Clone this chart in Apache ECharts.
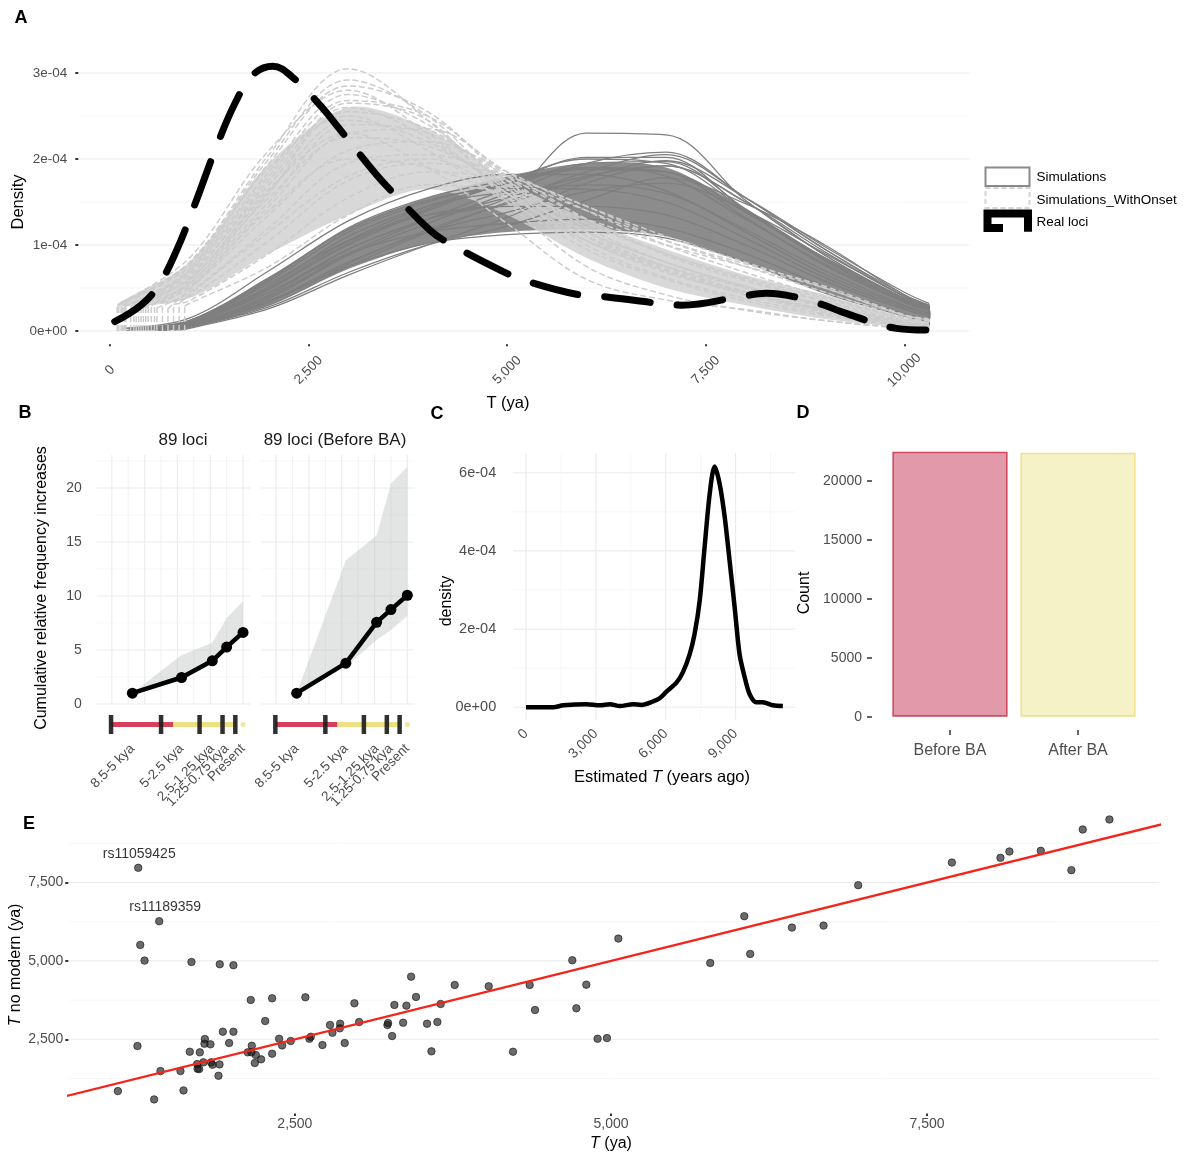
<!DOCTYPE html>
<html>
<head>
<meta charset="utf-8">
<script src="https://cdn.jsdelivr.net/npm/echarts@6/dist/echarts.min.js"></script>
<style>
  html, body { margin: 0; padding: 0; background: #fff; }
  #chart { width: 1193px; height: 1154px; }
</style>
</head>
<body>
<div id="chart"></div>
<script>
// ---------------- Panel A: densities of T (density values in units of 1e-4) ----------------
const aCurveT = [1000, 2000, 3000, 4000, 5000, 6000, 7000, 8000, 9000, 10000, 10310];

// "Simulations" (solid dark curves): start point and values at aCurveT
const aSimStartT = [620, 440, 320, 240, 150, 380, 560, 500, 680, 420, 200, 800, 260, 600, 340, 860, 460, 580, 230, 700];
const aSimStartD = [0.01, 0.02, 0.02, 0.02, 0.03, 0.02, 0.01, 0.02, 0.01, 0.02, 0.03, 0.01, 0.02, 0.01, 0.02, 0.01, 0.02, 0.01, 0.03, 0.01];
const aSimCurves = [
  [0.05, 0.35, 0.75, 1.02, 1.12, 1.15, 1.08, 0.80, 0.44, 0.17, 0.11],
  [0.08, 0.45, 0.90, 1.15, 1.25, 1.30, 1.20, 0.90, 0.52, 0.20, 0.13],
  [0.10, 0.55, 1.05, 1.35, 1.45, 1.45, 1.35, 1.00, 0.58, 0.25, 0.17],
  [0.12, 0.62, 1.18, 1.52, 1.66, 1.65, 1.50, 1.08, 0.62, 0.27, 0.19],
  [0.15, 0.70, 1.28, 1.65, 1.82, 1.82, 1.63, 1.15, 0.66, 0.29, 0.21],
  [0.10, 0.50, 1.00, 1.40, 1.72, 1.90, 1.85, 1.32, 0.76, 0.33, 0.24],
  [0.06, 0.40, 0.90, 1.30, 1.65, 1.95, 1.97, 1.42, 0.84, 0.37, 0.27],
  [0.08, 0.45, 0.95, 1.30, 1.55, 1.80, 1.92, 1.50, 0.92, 0.40, 0.29],
  [0.05, 0.30, 0.75, 1.15, 1.50, 1.85, 2.05, 1.55, 0.95, 0.40, 0.29],
  [0.07, 0.42, 0.95, 1.30, 1.55, 2.30, 2.28, 1.52, 0.88, 0.36, 0.26],
  [0.12, 0.60, 1.20, 1.55, 1.75, 1.90, 1.80, 1.30, 0.78, 0.34, 0.24],
  [0.04, 0.28, 0.68, 1.00, 1.22, 1.52, 1.78, 1.48, 1.00, 0.42, 0.30],
  [0.09, 0.50, 1.05, 1.45, 1.72, 2.02, 2.02, 1.40, 0.82, 0.35, 0.25],
  [0.06, 0.35, 0.80, 1.15, 1.38, 1.62, 1.72, 1.40, 0.90, 0.40, 0.28],
  [0.10, 0.52, 1.10, 1.45, 1.62, 1.70, 1.60, 1.18, 0.70, 0.30, 0.21],
  [0.03, 0.26, 0.65, 1.00, 1.32, 1.72, 1.92, 1.50, 0.88, 0.38, 0.27],
  [0.08, 0.48, 1.02, 1.42, 1.75, 2.00, 1.95, 1.40, 0.82, 0.34, 0.24],
  [0.06, 0.38, 0.88, 1.25, 1.60, 1.95, 2.08, 1.55, 0.95, 0.42, 0.30],
  [0.11, 0.58, 1.15, 1.50, 1.72, 1.88, 1.85, 1.38, 0.85, 0.38, 0.27],
  [0.05, 0.33, 0.78, 1.18, 1.48, 1.78, 1.98, 1.55, 0.98, 0.45, 0.32]
];

// "Simulations_WithOnset" (dashed light curves)
const aOnsetStartT = [90, 140, 260, 330, 200, 450, 390, 520, 590, 660, 800, 940, 480, 160, 730, 870, 110, 180, 300, 360, 420, 560];
const aOnsetStartD = [0.30, 0.33, 0.28, 0.31, 0.34, 0.29, 0.32, 0.30, 0.27, 0.33, 0.31, 0.29, 0.34, 0.30, 0.26, 0.32, 0.31, 0.28, 0.33, 0.30, 0.27, 0.32];
const aOnsetCurves = [
  [0.80, 2.05, 3.05, 2.45, 1.55, 0.95, 0.60, 0.35, 0.18, 0.06, 0.04],
  [0.85, 2.10, 2.80, 2.30, 1.60, 1.05, 0.70, 0.45, 0.25, 0.08, 0.05],
  [0.70, 1.85, 2.75, 2.40, 1.70, 1.10, 0.72, 0.45, 0.22, 0.07, 0.05],
  [0.65, 1.70, 2.55, 2.35, 1.75, 1.20, 0.80, 0.50, 0.28, 0.09, 0.06],
  [0.75, 1.90, 2.50, 2.10, 1.50, 1.05, 0.75, 0.50, 0.30, 0.10, 0.07],
  [0.55, 1.50, 2.40, 2.30, 1.80, 1.30, 0.90, 0.60, 0.35, 0.12, 0.08],
  [0.60, 1.55, 2.25, 2.15, 1.70, 1.25, 0.90, 0.62, 0.38, 0.14, 0.10],
  [0.50, 1.35, 2.10, 2.20, 1.85, 1.40, 1.00, 0.68, 0.40, 0.15, 0.10],
  [0.45, 1.20, 1.95, 2.05, 1.80, 1.45, 1.05, 0.75, 0.45, 0.16, 0.12],
  [0.40, 1.05, 1.75, 1.95, 1.80, 1.45, 1.10, 0.80, 0.50, 0.18, 0.13],
  [0.35, 0.90, 1.55, 1.85, 1.75, 1.40, 1.05, 0.78, 0.52, 0.19, 0.14],
  [0.32, 0.75, 1.35, 1.70, 1.60, 1.30, 1.00, 0.75, 0.50, 0.18, 0.13],
  [0.55, 1.60, 2.65, 2.45, 1.50, 0.75, 0.42, 0.24, 0.12, 0.03, 0.02],
  [0.60, 1.65, 2.30, 1.90, 1.25, 0.60, 0.36, 0.25, 0.12, 0.04, 0.03],
  [0.48, 1.40, 2.00, 1.90, 1.55, 1.10, 0.75, 0.45, 0.25, 0.08, 0.05],
  [0.42, 1.15, 1.80, 2.00, 1.60, 1.15, 0.80, 0.52, 0.30, 0.10, 0.07],
  [0.78, 2.00, 2.92, 2.50, 1.65, 1.00, 0.62, 0.38, 0.20, 0.06, 0.04],
  [0.72, 1.95, 2.85, 2.55, 1.75, 1.10, 0.70, 0.42, 0.22, 0.07, 0.05],
  [0.68, 1.80, 2.68, 2.50, 1.80, 1.15, 0.75, 0.46, 0.25, 0.08, 0.05],
  [0.62, 1.75, 2.60, 2.25, 1.60, 1.05, 0.68, 0.44, 0.24, 0.08, 0.05],
  [0.52, 1.45, 2.30, 2.35, 1.85, 1.30, 0.88, 0.58, 0.34, 0.11, 0.08],
  [0.58, 1.62, 2.45, 2.20, 1.65, 1.15, 0.80, 0.52, 0.30, 0.10, 0.07]
];

// dense cores of the two simulation bundles
const aSimBandT = [200, 1000, 2000, 3000, 4000, 5000, 6000, 7000, 8000, 9000, 10000, 10310];
const aSimBandLow = [0.00, 0.04, 0.30, 0.72, 1.02, 1.15, 1.18, 1.10, 0.80, 0.45, 0.18, 0.12];
const aSimBandHigh = [0.01, 0.13, 0.62, 1.20, 1.55, 1.80, 1.95, 1.90, 1.42, 0.86, 0.38, 0.27];
const aOnsetBandT = [100, 1000, 2000, 3000, 4000, 5000, 6000, 7000, 8000, 9000, 10000, 10310];
const aOnsetBandLow = [0.28, 0.38, 0.90, 1.35, 1.65, 1.35, 0.85, 0.50, 0.30, 0.14, 0.04, 0.03];
const aOnsetBandHigh = [0.32, 0.80, 1.95, 2.60, 2.35, 1.75, 1.30, 0.95, 0.65, 0.42, 0.15, 0.10];

// "Real loci"
const aRealT = [60, 390, 610, 830, 1080, 1330, 1580, 1800, 2050, 2300, 2660, 2880, 3360, 3530, 4030, 4270,
                4950, 5210, 5910, 6210, 6920, 7200, 7940, 8260, 8920, 9220, 9900, 10270];
const aRealD = [0.11, 0.30, 0.53, 0.92, 1.50, 2.12, 2.66, 2.98, 3.08, 2.95, 2.61, 2.36, 1.81, 1.64, 1.17, 1.02,
                0.69, 0.59, 0.42, 0.40, 0.32, 0.30, 0.40, 0.44, 0.32, 0.22, 0.03, 0.01];

const aXTicks = [0, 2500, 5000, 7500, 10000];
const aYTicks = [0, 1, 2, 3];
const aYMinor = [0.5, 1.5, 2.5];
const aLegendNames = ['Simulations', 'Simulations_WithOnset', 'Real loci'];

// ---------------- Panel B: cumulative relative frequency increases ----------------
const bFacetTitles = ['89 loci', '89 loci (Before BA)'];
const bPeriodLabels = ['8.5-5 kya', '5-2.5 kya', '2.5-1.25 kya', '1.25-0.75 kya', 'Present'];
const bPeriodX = [-6.75, -3.75, -1.875, -1, 0];
const bCumulative = [[1.0, 2.45, 4.0, 5.27, 6.63], [1.0, 3.78, 7.56, 8.74, 10.07]];
const bLower = [[1.0, 2.2, 3.75, 5.0, 6.3], [1.0, 3.45, 5.93, 6.85, 8.15]];
const bUpper = [[1.0, 4.54, 5.68, 7.93, 9.54], [1.0, 13.3, 15.6, 20.4, 21.97]];
const bYTicks = [0, 5, 10, 15, 20];
const bYMinor = [2.5, 7.5, 12.5, 17.5, 22.5];
const bXGrid = [-8, -6, -4, -2, 0];
const bXMinor = [-7, -5, -3, -1];
const bTimelineBreaks = [-8.05, -5.0, -2.65, -1.25, -0.47];
const bBeforeBA = [-8.05, -4.27];
const bAfterBA = [-4.27, -0.42];
const bPresent = 0;

// ---------------- Panel C: density of estimated T ----------------
const cT = [0, 1170, 1600, 2600, 3170, 3600, 4030, 4600, 4960, 5460, 5740, 6030, 6460, 6740, 7030, 7240,
            7460, 7670, 7890, 8100, 8310, 8530, 8740, 8960, 9170, 9390, 9600, 9890, 10170, 10600, 11030];
const cD = [0.0, 0.0, 0.05, 0.08, 0.05, 0.08, 0.03, 0.08, 0.06, 0.15, 0.23, 0.40, 0.63, 0.90, 1.36, 1.88,
            2.73, 4.10, 5.47, 6.16, 5.73, 4.88, 3.76, 2.56, 1.36, 0.77, 0.34, 0.13, 0.13, 0.05, 0.03];
const cXTicks = [0, 3000, 6000, 9000];
const cXMinor = [1500, 4500, 7500, 10500];
const cYTicks = [0, 2, 4, 6];
const cYMinor = [1, 3, 5];

// ---------------- Panel D: counts ----------------
const dGroups = ['Before BA', 'After BA'];
const dCounts = [22490, 22400];
const dYTicks = [0, 5000, 10000, 15000, 20000];

// ---------------- Panel E: T vs T without modern samples ----------------
const ePoints = [
  [1261, 7967], [1427, 6265], [1277, 5509], [1311, 5009], [1255, 2285], [1100, 849], [1387, 584],
  [1437, 1487], [1595, 1487], [1619, 871], [1682, 4966], [1669, 2104], [1727, 1711], [1730, 1561],
  [1743, 1550], [1748, 2084], [1777, 1765], [1785, 2359], [1788, 2509], [1832, 2340], [1837, 1765],
  [1848, 1689], [1896, 1338], [1904, 1700], [1906, 4893], [1930, 2742], [1980, 2381], [2014, 2742],
  [2014, 4861], [2127, 2084], [2151, 3754], [2159, 2295], [2156, 2084], [2183, 1743], [2191, 1998],
  [2233, 1861], [2265, 3083], [2320, 3807], [2320, 2040], [2375, 2518], [2399, 2306], [2467, 2445],
  [2583, 3840], [2615, 2518], [2626, 2582], [2718, 2317], [2778, 2956], [2797, 2710], [2858, 2997],
  [2855, 2850], [2894, 2381], [2971, 3648], [3008, 3051], [3232, 2956], [3237, 3019], [3269, 2604],
  [3287, 3594], [3356, 3030], [3382, 3573], [3419, 4498], [3458, 3849], [3545, 2997], [3580, 2116],
  [3627, 3051], [3653, 3626], [3764, 4232], [4033, 4190], [4225, 2104], [4357, 4232], [4399, 3434],
  [4694, 5020], [4726, 3488], [4805, 4243], [4894, 2518], [4968, 2539], [5058, 5711], [5785, 4934],
  [6054, 6425], [6101, 5222], [6431, 6062], [6681, 6125], [6955, 7414], [7696, 8136], [8080, 8286],
  [8151, 8487], [8399, 8509], [8641, 7893], [8731, 9190], [8942, 9508]
];
const eLabelIndex = [0, 1];
const eLabelNames = ['rs11059425', 'rs11189359'];
const eIdentity = [[0, 0], [10000, 10000]];   // y = x reference line
const eTicks = [2500, 5000, 7500];
const eMinor = [1250, 3750, 6250, 8750];

// ---------------- styling ----------------
const FONT = '"Liberation Sans", Arial, Helvetica, sans-serif';
const AXIS_TXT = '#4d4d4d';
const GRID_MAJOR = { stroke: '#ebebeb', lineWidth: 1.1 };
const GRID_MINOR = { stroke: '#f4f4f4', lineWidth: 0.7 };
const SIM_COLOR = '#7f7f7f';
const ONSET_COLOR = '#cccccc';
const BEFORE_RED = '#d6405a';
const AFTER_YELLOW = '#efdf84';
const D_FILL = ['#e29aaa', '#f5f2c8'];
const D_EDGE = ['#d24a60', '#f0e28c'];
const E_LABEL_SHIFT = [[1, 0], [6, 0]];

const ranges = {
  A: { x: [-399, 10818], y: [-0.155, 3.255] },
  B: { x: [-8.925, 0.425], y: [-0.05, 23.05] },
  T: { x: [-8.925, 0.425], y: [-1, 1] },
  C: { x: [-550, 11560], y: [-0.31, 6.5] },
  D: { y: [-1124, 23610] },
  E: { x: [708, 9334], y: [138, 9954] }
};

const fmtComma = v => Number(v).toLocaleString('en-US');
const fmtSci = v => (v === 0 ? '0e+00' : v + 'e-04');
const fmtPlain = v => String(v);
const fmtPeriod = v => { const k = bPeriodX.indexOf(v); return k < 0 ? '' : bPeriodLabels[k]; };

// ---------------- helpers ----------------
function segSeries(gi, segs, style, z) {
  return {
    type: 'custom', xAxisIndex: gi, yAxisIndex: gi, z: z, silent: true,
    data: segs, encode: { x: [0, 2], y: [1, 3] },
    renderItem: function (params, api) {
      const a = api.coord([api.value(0), api.value(1)]);
      const b = api.coord([api.value(2), api.value(3)]);
      return { type: 'line', shape: { x1: a[0], y1: a[1], x2: b[0], y2: b[1] },
               style: Object.assign({ fill: null }, style) };
    }
  };
}
function hGrid(gi, xr, ys, style) { return segSeries(gi, ys.map(y => [xr[0], y, xr[1], y]), style, 0); }
function vGrid(gi, yr, xs, style) { return segSeries(gi, xs.map(x => [x, yr[0], x, yr[1]]), style, 0); }

function bandSeries(gi, xs, lo, hi, fill, opacity, smooth, z) {
  return {
    type: 'custom', xAxisIndex: gi, yAxisIndex: gi, z: z, silent: true,
    data: [[xs[0], lo[0]]],
    renderItem: function (params, api) {
      const top = xs.map((x, i) => api.coord([x, hi[i]]));
      const bottom = xs.map((x, i) => api.coord([x, lo[i]])).reverse();
      return { type: 'polygon', shape: { points: top.concat(bottom), smooth: smooth },
               style: { fill: fill, opacity: opacity } };
    }
  };
}

function valueAxis(gi, r, extra) {
  return Object.assign({
    type: 'value', gridIndex: gi, min: r[0], max: r[1],
    axisLine: { show: false, onZero: false }, axisTick: { show: false },
    splitLine: { show: false }, axisLabel: { show: false }
  }, extra || {});
}
function tickStyle(values, length, width) {
  return { show: true, customValues: values, length: length, lineStyle: { color: '#333', width: width } };
}
function labelStyle(values, extra) {
  return Object.assign({ show: true, customValues: values, showMinLabel: true, showMaxLabel: true, hideOverlap: false,
                         color: AXIS_TXT, fontSize: 13.5, fontFamily: FONT }, extra);
}

// ---------------- grids ----------------
const grids = [
  { left: 78.3, top: 51.1, width: 891, height: 293.2 },      // A
  { left: 96.7, top: 455.1, width: 153.3, height: 249.4 },   // B, 89 loci
  { left: 261, top: 455.1, width: 153.3, height: 249.4 },    // B, Before BA
  { left: 96.7, top: 715, width: 153.3, height: 19 },        // B timeline
  { left: 261, top: 715, width: 153.3, height: 19 },         // B timeline
  { left: 513.2, top: 453.2, width: 282, height: 266.2 },    // C
  { left: 886, top: 438.5, width: 256, height: 291.4 },      // D
  { left: 68.3, top: 805.5, width: 1090.7, height: 307.9 }   // E
];

// ---------------- axes ----------------
// period labels of panel B are split over two stacked axes so that close neighbours never collide
const bPeriodEven = bPeriodX.filter((v, i) => i % 2 === 0);
const bPeriodOdd = bPeriodX.filter((v, i) => i % 2 === 1);
function bPeriodAxis(gi, values) {
  return valueAxis(gi, ranges.B.x, {
    position: 'bottom',
    axisLabel: labelStyle(values, { formatter: fmtPeriod, rotate: 45, align: 'right', verticalAlign: 'middle', margin: 42 })
  });
}
const xAxes = [
  valueAxis(0, ranges.A.x, {
    axisTick: tickStyle(aXTicks, 2, 2),
    axisLabel: labelStyle(aXTicks, { formatter: fmtComma, rotate: 45, align: 'center', verticalAlign: 'middle', margin: 26 })
  }),
  bPeriodAxis(1, bPeriodEven),
  bPeriodAxis(2, bPeriodEven),
  valueAxis(3, ranges.T.x),
  valueAxis(4, ranges.T.x),
  valueAxis(5, ranges.C.x, {
    axisLabel: labelStyle(cXTicks, { formatter: fmtComma, rotate: 45, align: 'right', verticalAlign: 'middle', margin: 12, fontSize: 14 })
  }),
  {
    type: 'category', gridIndex: 6, data: dGroups,
    axisLine: { show: false, onZero: false }, splitLine: { show: false },
    axisTick: { show: true, alignWithLabel: true, length: 5, lineStyle: { color: '#333', width: 1.5 } },
    axisLabel: { color: AXIS_TXT, fontSize: 16, fontFamily: FONT, margin: 13 }
  },
  valueAxis(7, ranges.E.x, {
    axisTick: tickStyle(eTicks, 2.5, 2),
    axisLabel: labelStyle(eTicks, { formatter: fmtComma, margin: 4, fontSize: 14 })
  }),
  bPeriodAxis(1, bPeriodOdd),
  bPeriodAxis(2, bPeriodOdd)
];
const yAxes = [
  valueAxis(0, ranges.A.y, {
    axisTick: tickStyle(aYTicks, 3, 2),
    axisLabel: labelStyle(aYTicks, { formatter: fmtSci, margin: 11 })
  }),
  valueAxis(1, ranges.B.y, { axisLabel: labelStyle(bYTicks, { formatter: fmtPlain, margin: 15, fontSize: 14 }) }),
  valueAxis(2, ranges.B.y),
  valueAxis(3, ranges.T.y),
  valueAxis(4, ranges.T.y),
  valueAxis(5, ranges.C.y, { axisLabel: labelStyle(cYTicks, { formatter: fmtSci, margin: 17, fontSize: 14.5 }) }),
  valueAxis(6, ranges.D.y, {
    offset: 14,
    axisTick: tickStyle(dYTicks, 5, 1.5),
    axisLabel: labelStyle(dYTicks, { formatter: fmtPlain, margin: 10, fontSize: 14 })
  }),
  valueAxis(7, ranges.E.y, {
    axisTick: tickStyle(eTicks, 3, 2),
    axisLabel: labelStyle(eTicks, { formatter: fmtComma, margin: 5, fontSize: 14 })
  })
];

// ---------------- series ----------------
const series = [];
const lastT = aCurveT[aCurveT.length - 1];

// Panel A
series.push(hGrid(0, ranges.A.x, aYTicks, GRID_MAJOR));
series.push(hGrid(0, ranges.A.x, aYMinor, GRID_MINOR));
series.push(bandSeries(0, aSimBandT, aSimBandLow, aSimBandHigh, '#808080', 0.9, 0.3, 1));
series.push(bandSeries(0, aOnsetBandT, aOnsetBandLow, aOnsetBandHigh, '#d0d0d0', 0.82, 0.3, 1.5));
aSimCurves.forEach((vals, i) => {
  series.push({
    type: 'line', xAxisIndex: 0, yAxisIndex: 0, z: 2, silent: true, showSymbol: false, smooth: 0.35,
    data: [[aSimStartT[i], aSimStartD[i]]].concat(aCurveT.map((t, j) => [t, vals[j]])),
    lineStyle: { color: SIM_COLOR, width: 1.3 }
  });
});
series.push(segSeries(0, aSimCurves.map(v => [lastT, 0, lastT, v[v.length - 1]]),
  { stroke: SIM_COLOR, lineWidth: 1.3 }, 2));
aOnsetCurves.forEach((vals, i) => {
  series.push({
    type: 'line', xAxisIndex: 0, yAxisIndex: 0, z: 4, silent: true, showSymbol: false, smooth: 0.35,
    data: [[aOnsetStartT[i], aOnsetStartD[i]]].concat(aCurveT.map((t, j) => [t, vals[j]])),
    lineStyle: { color: ONSET_COLOR, width: 1.5, type: [6, 3] }
  });
});
series.push(segSeries(0, aOnsetStartT.map((t, i) => [t, 0, t, aOnsetStartD[i]]),
  { stroke: ONSET_COLOR, lineWidth: 1.5, lineDash: [6, 3] }, 4));
series.push(segSeries(0, aOnsetCurves.map(v => [lastT, 0, lastT, v[v.length - 1]]),
  { stroke: ONSET_COLOR, lineWidth: 1.5, lineDash: [6, 3] }, 4));
series.push({
  type: 'line', xAxisIndex: 0, yAxisIndex: 0, z: 6, silent: true, showSymbol: false, smooth: 0.4,
  data: aRealT.map((t, i) => [t, aRealD[i]]),
  lineStyle: { color: '#000', width: 7, type: [46, 27], cap: 'round' }
});

// Panel B (two facets + timelines)
[0, 1].forEach(f => {
  const gi = 1 + f, ti = 3 + f;
  series.push(hGrid(gi, ranges.B.x, bYTicks, GRID_MAJOR));
  series.push(hGrid(gi, ranges.B.x, bYMinor, GRID_MINOR));
  series.push(vGrid(gi, ranges.B.y, bXGrid, GRID_MAJOR));
  series.push(vGrid(gi, ranges.B.y, bXMinor, { stroke: '#efefef', lineWidth: 0.9 }));
  series.push(bandSeries(gi, bPeriodX, bLower[f], bUpper[f], 'rgba(185,190,190,0.4)', 1, 0, 1));
  series.push({
    type: 'line', xAxisIndex: gi, yAxisIndex: gi, z: 3, silent: true,
    data: bPeriodX.map((x, i) => [x, bCumulative[f][i]]),
    symbol: 'circle', symbolSize: 11, itemStyle: { color: '#000' },
    lineStyle: { color: '#000', width: 4.5 }
  });
  series.push(segSeries(ti, [[bBeforeBA[0], 0, bBeforeBA[1], 0]], { stroke: BEFORE_RED, lineWidth: 5 }, 1));
  series.push(segSeries(ti, [[bAfterBA[0], 0, bAfterBA[1], 0]], { stroke: AFTER_YELLOW, lineWidth: 5 }, 1));
  series.push(segSeries(ti, bTimelineBreaks.map(x => [x, -1, x, 1]), { stroke: 'rgba(30,30,30,0.92)', lineWidth: 4.5 }, 2));
  series.push({
    type: 'scatter', xAxisIndex: ti, yAxisIndex: ti, z: 2, silent: true,
    data: [[bPresent, 0]], symbolSize: 5, itemStyle: { color: AFTER_YELLOW }
  });
});

// Panel C
series.push(hGrid(5, ranges.C.x, cYTicks, GRID_MAJOR));
series.push(hGrid(5, ranges.C.x, cYMinor, GRID_MINOR));
series.push(vGrid(5, ranges.C.y, cXTicks, GRID_MAJOR));
series.push(vGrid(5, ranges.C.y, cXMinor, GRID_MINOR));
series.push({
  type: 'line', xAxisIndex: 5, yAxisIndex: 5, z: 3, silent: true, showSymbol: false, smooth: 0.3,
  data: cT.map((t, i) => [t, cD[i]]),
  lineStyle: { color: '#000', width: 4.5 }
});

// Panel D
series.push({
  type: 'bar', xAxisIndex: 6, yAxisIndex: 6, barCategoryGap: '10%', silent: true,
  data: dCounts.map((v, i) => ({ value: v, itemStyle: { color: D_FILL[i], borderColor: D_EDGE[i], borderWidth: 1.6 } }))
});

// Panel E
series.push(hGrid(7, ranges.E.x, eTicks, GRID_MAJOR));
series.push(hGrid(7, ranges.E.x, eMinor, GRID_MINOR));
series.push({
  type: 'scatter', xAxisIndex: 7, yAxisIndex: 7, z: 3, silent: true, symbolSize: 7.5,
  itemStyle: { color: 'rgba(22,22,22,0.8)', borderColor: 'rgba(10,10,10,0.9)', borderWidth: 0.8 },
  data: ePoints.map((p, i) => {
    const k = eLabelIndex.indexOf(i);
    if (k < 0) return p;
    return {
      value: p,
      label: { show: true, formatter: eLabelNames[k], position: 'top', distance: 3, offset: E_LABEL_SHIFT[k],
               color: '#000', fontSize: 14, fontFamily: FONT }
    };
  })
});
series.push({
  type: 'line', xAxisIndex: 7, yAxisIndex: 7, z: 4, silent: true, showSymbol: false,
  data: eIdentity, lineStyle: { color: '#f5231a', width: 2.3 }
});

// ---------------- titles, panel letters, legend ----------------
function txt(text, x, y, o) {
  o = o || {};
  return {
    type: 'text', x: x, y: y, rotation: o.rot || 0, silent: true, z: 100,
    style: {
      text: text, fill: o.color || '#000', fontSize: o.size || 16, fontFamily: FONT,
      fontWeight: o.weight || 'normal', align: o.align || 'center', verticalAlign: 'middle',
      rich: { i: { fontStyle: 'italic', fontSize: o.size || 16, fontFamily: FONT, fill: o.color || '#000' } }
    }
  };
}
const V = Math.PI / 2;
const graphics = [
  txt('A', 21, 18, { weight: 'bold', size: 18 }),
  txt('B', 25, 413, { weight: 'bold', size: 18 }),
  txt('C', 437, 414, { weight: 'bold', size: 18 }),
  txt('D', 803, 413, { weight: 'bold', size: 18 }),
  txt('E', 29, 824, { weight: 'bold', size: 18 }),
  txt('Density', 18, 202, { rot: V, size: 16.5 }),
  txt('T (ya)', 508, 403, { size: 16.5 }),
  txt(bFacetTitles[0], 183, 440, { size: 17, color: '#1a1a1a' }),
  txt(bFacetTitles[1], 335, 440, { size: 17, color: '#1a1a1a' }),
  txt('Cumulative relative frequency increases', 42, 588, { rot: V, size: 16 }),
  txt('density', 447, 601, { rot: V, size: 16 }),
  txt('Estimated {i|T} (years ago)', 662, 777, { size: 16.5 }),
  txt('Count', 805, 593, { rot: V, size: 16 }),
  txt('{i|T} no modern (ya)', 16, 965, { rot: V, size: 16 }),
  txt('{i|T} (ya)', 611, 1144, { size: 16 }),
  // legend keys
  { type: 'rect', silent: true, z: 100, shape: { x: 985.5, y: 167.5, width: 44, height: 18.5 },
    style: { fill: '#fff', stroke: '#8a8a8a', lineWidth: 2 } },
  { type: 'rect', silent: true, z: 100, shape: { x: 985.5, y: 188, width: 44, height: 20 },
    style: { fill: '#fff', stroke: '#d4d4d4', lineWidth: 2, lineDash: [5, 3] } },
  { type: 'polyline', silent: true, z: 100,
    shape: { points: [[1003, 228], [987.5, 228], [987.5, 213.5], [1028, 213.5], [1028, 231.7]] },
    style: { fill: null, stroke: '#000', lineWidth: 8, lineJoin: 'miter' } },
  txt(aLegendNames[0], 1036.5, 177.5, { size: 13.5, align: 'left' }),
  txt(aLegendNames[1], 1036.5, 200.5, { size: 13.5, align: 'left' }),
  txt(aLegendNames[2], 1036.5, 222.5, { size: 13.5, align: 'left' })
];

const chart = echarts.init(document.getElementById('chart'), null, { renderer: 'canvas' });
chart.setOption({
  animation: false,
  backgroundColor: '#ffffff',
  textStyle: { fontFamily: FONT },
  grid: grids,
  xAxis: xAxes,
  yAxis: yAxes,
  series: series,
  graphic: { elements: graphics }
});
</script>
</body>
</html>
